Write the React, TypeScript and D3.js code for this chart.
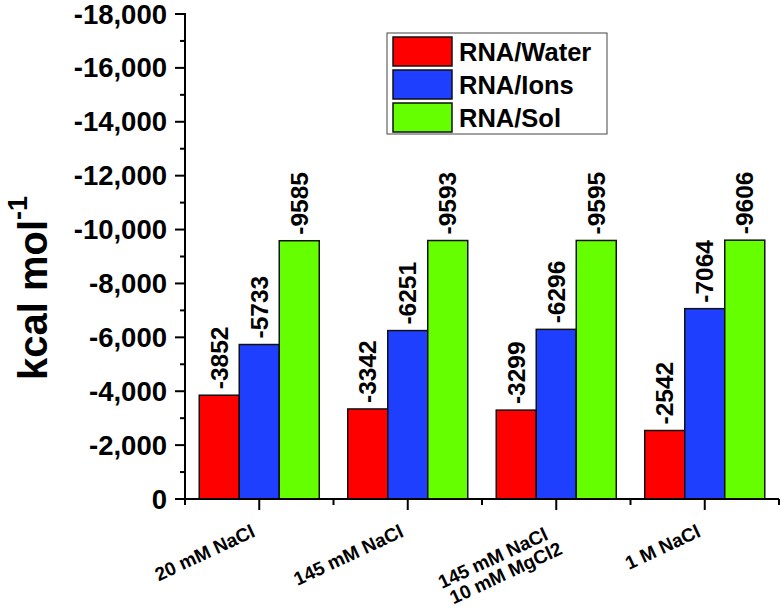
import React from "react";
import * as d3 from "d3";

const categories = ["20 mM NaCl", "145 mM NaCl", "145 mM NaCl\n10 mM MgCl2", "1 M NaCl"];
const seriesNames = ["RNA/Water", "RNA/Ions", "RNA/Sol"];
const waterValues = [-3852, -3342, -3299, -2542];
const ionsValues = [-5733, -6251, -6296, -7064];
const solValues = [-9585, -9593, -9595, -9606];
const seriesColors = ["#ff0000", "#1f3fff", "#66ff00"];
const yMajorTicks = [0, -2000, -4000, -6000, -8000, -10000, -12000, -14000, -16000, -18000];
const yMinorTicks = [-1000, -3000, -5000, -7000, -9000, -11000, -13000, -15000, -17000];

const W = 780;
const H = 608;
const FONT = "'Liberation Sans', Arial, Helvetica, sans-serif";

export default function App() {
  const left = 185;
  const right = 779;
  const top = 14;
  const bottom = 499;

  const x0 = d3.scaleBand<string>().domain(categories).range([left, right]).padding(0);
  const x1 = d3
    .scaleBand<string>()
    .domain(seriesNames)
    .range([0, x0.bandwidth()])
    .paddingInner(0)
    .paddingOuter(0.356);
  const y = d3.scaleLinear().domain([0, -18000]).range([bottom, top]);
  const fmt = d3.format(",");

  const allSeries = [waterValues, ionsValues, solValues];

  const minorX: number[] = categories.map((c) => x0(c)!).concat([right]);

  return (
    <svg
      width={W}
      height={H}
      style={{ position: "absolute", left: 0, top: 0, background: "#fff" }}
      fontFamily={FONT}
      fontWeight="bold"
    >
      <rect x={0} y={0} width={W} height={H} fill="#fff" />
      {/* bars */}
      {categories.map((c, ci) => (
        <g key={c} transform={`translate(${x0(c)},0)`}>
          {seriesNames.map((s, si) => {
            const v = allSeries[si][ci];
            const bx = x1(s)!;
            const bw = x1.bandwidth();
            return (
              <g key={s}>
                <rect
                  x={bx}
                  y={y(v)}
                  width={bw}
                  height={y(0) - y(v)}
                  fill={seriesColors[si]}
                  stroke="#111"
                  strokeWidth={1.5}
                />
                <text
                  transform={`translate(${bx + bw / 2},${y(v) - 6}) rotate(-90)`}
                  fontSize={24.5}
                  dominantBaseline="central"
                  textAnchor="start"
                  fill="#000"
                >
                  {String(v)}
                </text>
              </g>
            );
          })}
        </g>
      ))}
      {/* y axis */}
      <line x1={left} x2={left} y1={top - 1} y2={bottom} stroke="#000" strokeWidth={2} />
      {yMajorTicks.map((t) => (
        <g key={t}>
          <line x1={left - 10} x2={left} y1={y(t)} y2={y(t)} stroke="#000" strokeWidth={2} />
          <text
            x={left - 18}
            y={y(t)}
            textAnchor="end"
            dominantBaseline="central"
            fontSize={27.5}
            fill="#000"
          >
            {fmt(t).replace("−", "-")}
          </text>
        </g>
      ))}
      {yMinorTicks.map((t) => (
        <line key={t} x1={left - 5} x2={left} y1={y(t)} y2={y(t)} stroke="#000" strokeWidth={2} />
      ))}
      {/* x axis */}
      <line x1={left} x2={right} y1={bottom} y2={bottom} stroke="#000" strokeWidth={2} />
      {categories.map((c) => {
        const cx = x0(c)! + x0.bandwidth() / 2;
        const lines = c.split("\n");
        const multi = lines.length > 1;
        return (
          <g key={c}>
            <line x1={cx} x2={cx} y1={bottom} y2={bottom + 11} stroke="#000" strokeWidth={2} />
            <text
              transform={`translate(${cx - (multi ? 7 : 3)},${bottom + (multi ? 40 : 37)}) rotate(-25)`}
              textAnchor="end"
              fontSize={19}
              fill="#000"
            >
              {lines.map((l, i) => (
                <tspan key={i} x={i === 0 ? 0 : 7} y={i === 0 ? 0 : 19}>
                  {l}
                </tspan>
              ))}
            </text>
          </g>
        );
      })}
      {minorX.map((mx, i) => (
        <line key={i} x1={mx} x2={mx} y1={bottom} y2={bottom + 6} stroke="#000" strokeWidth={2} />
      ))}
      {/* y title */}
      <text
        transform={`translate(47,288) rotate(-90)`}
        textAnchor="middle"
        fontSize={40}
        fill="#000"
      >
        kcal mol
        <tspan fontSize={27} dy={-20}>
          -1
        </tspan>
      </text>
      {/* legend */}
      <rect x={387} y={33} width={220} height={101} fill="#fff" stroke="#444" strokeWidth={1} />
      {seriesNames.map((s, i) => (
        <g key={s} transform={`translate(0,${37 + i * 33})`}>
          <rect x={393} y={0} width={59} height={29} fill={seriesColors[i]} stroke="#111" strokeWidth={1.5} />
          <text x={459} y={15} dominantBaseline="central" fontSize={25.5} fill="#000">
            {s}
          </text>
        </g>
      ))}
    </svg>
  );
}
